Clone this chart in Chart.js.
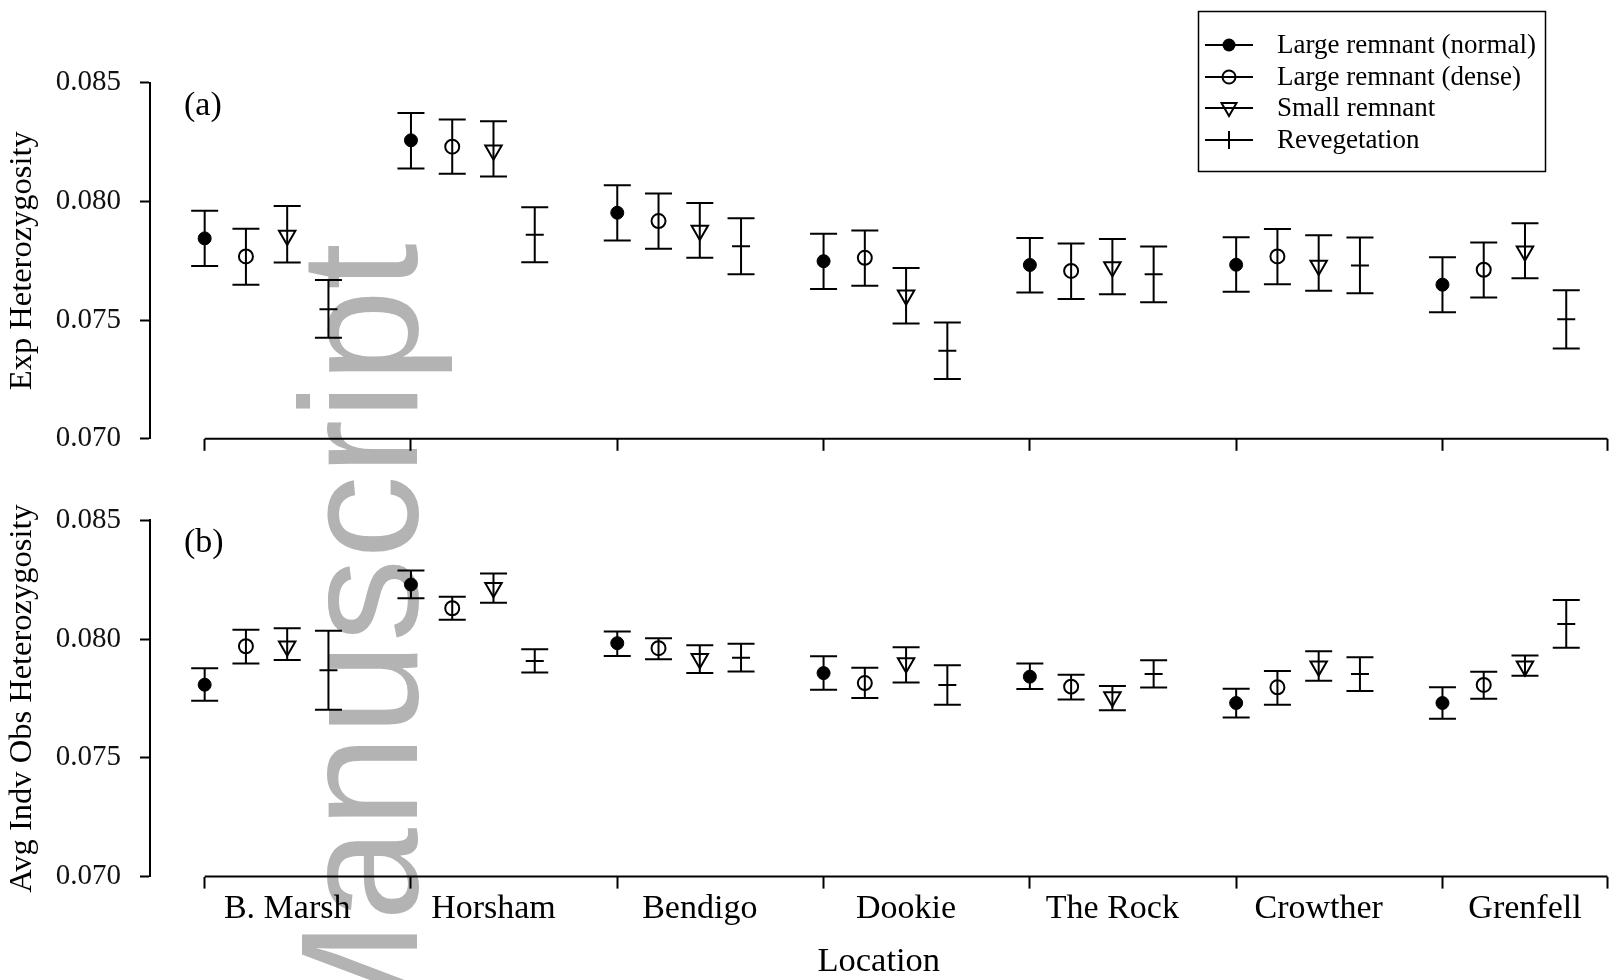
<!DOCTYPE html>
<html>
<head>
<meta charset="utf-8">
<script src="https://cdn.jsdelivr.net/npm/chart.js@4.4.1/dist/chart.umd.min.js"></script>
<style>
  html, body { margin: 0; padding: 0; background: #fff; overflow: hidden; }
  #wrap { position: relative; width: 1619px; height: 980px; overflow: hidden; }
  #wm {
    position: absolute; left: 276px; top: 1060px;
    font-family: 'Liberation Sans', Arial, sans-serif; font-size: 167px; line-height: 1;
    color: #b3b3b3; white-space: nowrap;
    transform: rotate(-90deg); transform-origin: 0 0; z-index: 0;
  }
  canvas { position: absolute; left: 0; z-index: 1; }
  #chartA { top: 0; }
  #chartB { top: 470px; }
</style>
</head>
<body>
<div id="wrap">
  <div id="wm">Manuscript</div>
  <canvas id="chartA" width="1619" height="470"></canvas>
  <canvas id="chartB" width="1619" height="510"></canvas>
</div>
<script>
var locations = ['B. Marsh', 'Horsham', 'Bendigo', 'Dookie', 'The Rock', 'Crowther', 'Grenfell'];
var seriesNames = ['Large remnant (normal)', 'Large remnant (dense)', 'Small remnant', 'Revegetation'];
var seriesOffset = [0, 0.2, 0.4, 0.6];   // where each series sits inside a location group
var labelOffset = 0.4;
var yTicks = [0.070, 0.075, 0.080, 0.085];

// (a) expected heterozygosity: mean, lower and upper end of error bar
var expNormal   = [0.07844, 0.08257, 0.07952, 0.07748, 0.07732, 0.07733, 0.07649];
var expNormalLo = [0.07728, 0.08138, 0.07835, 0.07631, 0.07616, 0.07619, 0.07533];
var expNormalHi = [0.07960, 0.08372, 0.08068, 0.07863, 0.07846, 0.07849, 0.07765];
var expDense    = [0.07768, 0.08230, 0.07917, 0.07762, 0.07707, 0.07768, 0.07712];
var expDenseLo  = [0.07649, 0.08116, 0.07800, 0.07645, 0.07589, 0.07651, 0.07595];
var expDenseHi  = [0.07885, 0.08345, 0.08033, 0.07877, 0.07822, 0.07883, 0.07827];
var expSmall    = [0.07856, 0.08215, 0.07877, 0.07605, 0.07723, 0.07730, 0.07790];
var expSmallLo  = [0.07742, 0.08105, 0.07762, 0.07486, 0.07609, 0.07623, 0.07676];
var expSmallHi  = [0.07980, 0.08337, 0.07993, 0.07719, 0.07841, 0.07857, 0.07908];
var expReveg    = [0.07546, 0.07859, 0.07811, 0.07371, 0.07693, 0.07730, 0.07503];
var expRevegLo  = [0.07426, 0.07743, 0.07693, 0.07252, 0.07575, 0.07613, 0.07380];
var expRevegHi  = [0.07669, 0.07975, 0.07929, 0.07490, 0.07810, 0.07848, 0.07626];

// (b) average individual observed heterozygosity
var obsNormal   = [0.07808, 0.08230, 0.07983, 0.07857, 0.07842, 0.07731, 0.07731];
var obsNormalLo = [0.07741, 0.08172, 0.07929, 0.07787, 0.07790, 0.07670, 0.07665];
var obsNormalHi = [0.07877, 0.08289, 0.08032, 0.07928, 0.07897, 0.07791, 0.07797];
var obsDense    = [0.07970, 0.08130, 0.07962, 0.07815, 0.07800, 0.07797, 0.07807];
var obsDenseLo  = [0.07897, 0.08082, 0.07915, 0.07752, 0.07746, 0.07724, 0.07749];
var obsDenseHi  = [0.08040, 0.08178, 0.08004, 0.07880, 0.07850, 0.07866, 0.07863];
var obsSmall    = [0.07970, 0.08216, 0.07917, 0.07900, 0.07756, 0.07886, 0.07886];
var obsSmallLo  = [0.07912, 0.08153, 0.07857, 0.07817, 0.07700, 0.07825, 0.07846];
var obsSmallHi  = [0.08046, 0.08276, 0.07974, 0.07966, 0.07803, 0.07949, 0.07931];
var obsReveg    = [0.07869, 0.07908, 0.07922, 0.07807, 0.07853, 0.07853, 0.08064];
var obsRevegLo  = [0.07703, 0.07859, 0.07864, 0.07724, 0.07796, 0.07782, 0.07964];
var obsRevegHi  = [0.08035, 0.07957, 0.07981, 0.07890, 0.07911, 0.07924, 0.08165];

Chart.defaults.font.family = "'Liberation Serif', 'Times New Roman', serif";
Chart.defaults.color = '#000';

var xMax = 6.8;
var groupEdges = locations.map(function (l, i) { return i; }).concat([xMax]);
var labelPos = locations.map(function (l, i) { return i + labelOffset; });

function isLabelTick(v) {
    return labelPos.some(function (p) { return Math.abs(p - v) < 1e-6; });
}

function makePoints(mean, lo, hi, s) {
    return mean.map(function (m, i) {
        return { x: i + seriesOffset[s], y: m, lo: lo[i], hi: hi[i] };
    });
}

var markerStyles = [
    { pointStyle: 'circle', pointRadius: 6.5, pointBackgroundColor: '#000', pointBorderWidth: 1 },
    { pointStyle: 'circle', pointRadius: 7, pointBackgroundColor: 'rgba(0,0,0,0)', pointBorderWidth: 2 },
    { pointStyle: 'triangle', pointRotation: 180, pointRadius: 9.5, pointBackgroundColor: 'rgba(0,0,0,0)', pointBorderWidth: 2 },
    { pointStyle: 'line', pointRadius: 9, pointBorderWidth: 2 }
];

// error bars, drawn under the markers
var errorBars = {
    id: 'errorBars',
    beforeDatasetsDraw: function (chart) {
        var ctx = chart.ctx, x = chart.scales.x, y = chart.scales.y;
        ctx.save();
        ctx.strokeStyle = '#000';
        ctx.lineWidth = 2;
        chart.data.datasets.forEach(function (ds) {
            ds.data.forEach(function (p) {
                var px = x.getPixelForValue(p.x);
                var t = y.getPixelForValue(p.hi), b = y.getPixelForValue(p.lo);
                ctx.beginPath();
                ctx.moveTo(px, t); ctx.lineTo(px, b);
                ctx.moveTo(px - 13.5, t); ctx.lineTo(px + 13.5, t);
                ctx.moveTo(px - 13.5, b); ctx.lineTo(px + 13.5, b);
                ctx.stroke();
            });
        });
        ctx.restore();
    }
};

// x axis line starts at the first group, not at the y axis
var xAxisLine = {
    id: 'xAxisLine',
    afterDraw: function (chart) {
        var ctx = chart.ctx, x = chart.scales.x, y = chart.scales.y;
        var py = y.getPixelForValue(y.min);
        ctx.save();
        ctx.strokeStyle = '#000';
        ctx.lineWidth = 2;
        ctx.beginPath();
        ctx.moveTo(x.getPixelForValue(0), py);
        ctx.lineTo(x.getPixelForValue(xMax), py);
        ctx.stroke();
        ctx.restore();
    }
};

var panelLabel = {
    id: 'panelLabel',
    afterDraw: function (chart, args, opts) {
        var ctx = chart.ctx, a = chart.chartArea;
        ctx.save();
        ctx.font = "34px 'Liberation Serif'";
        ctx.fillStyle = '#000';
        ctx.textBaseline = 'middle';
        ctx.fillText(opts.text, a.left + 34, a.top + 23);
        ctx.restore();
    }
};

var boxLegend = {
    id: 'boxLegend',
    afterDraw: function (chart, args, opts) {
        if (!opts.show) return;
        var ctx = chart.ctx;
        var rowY = [45, 77, 108, 140];
        ctx.save();
        ctx.strokeStyle = '#000';
        ctx.fillStyle = '#000';
        ctx.lineWidth = 1.5;
        ctx.strokeRect(1198.5, 11.5, 347, 160);
        ctx.font = "27px 'Liberation Serif'";
        ctx.textBaseline = 'middle';
        seriesNames.forEach(function (name, s) {
            var y = rowY[s], cx = 1229;
            ctx.lineWidth = 2;
            ctx.beginPath(); ctx.moveTo(1205, y); ctx.lineTo(1253, y); ctx.stroke();
            ctx.beginPath();
            if (s === 0) { ctx.arc(cx, y, 6.5, 0, Math.PI * 2); ctx.fill(); }
            else if (s === 1) { ctx.arc(cx, y, 6.5, 0, Math.PI * 2); ctx.stroke(); }
            else if (s === 2) {
                ctx.moveTo(cx, y + 8); ctx.lineTo(cx - 7.5, y - 5); ctx.lineTo(cx + 7.5, y - 5);
                ctx.closePath(); ctx.stroke();
            } else { ctx.moveTo(cx, y - 9); ctx.lineTo(cx, y + 9); ctx.stroke(); }
            ctx.fillText(name, 1277, y + 1);
        });
        ctx.restore();
    }
};

function makeChart(id, series, yTitle, panel, bottom) {
    var datasets = series.map(function (d, s) {
        return Object.assign({
            label: seriesNames[s],
            data: makePoints(d[0], d[1], d[2], s),
            borderColor: '#000',
            pointBorderColor: '#000',
            showLine: false
        }, markerStyles[s]);
    });
    return new Chart(document.getElementById(id), {
        type: 'scatter',
        data: { datasets: datasets },
        plugins: [errorBars, xAxisLine, panelLabel, boxLegend],
        options: {
            responsive: false,
            animation: false,
            events: [],
            devicePixelRatio: 1,
            layout: { padding: { top: bottom ? 50.4 : 82.6, right: 8, bottom: 0, left: 0 } },
            plugins: {
                legend: { display: false },
                tooltip: { enabled: false },
                panelLabel: { text: panel },
                boxLegend: { show: !bottom }
            },
            scales: {
                x: {
                    type: 'linear',
                    min: -0.265,
                    max: xMax,
                    afterBuildTicks: function (sc) {
                        sc.ticks = groupEdges.concat(labelPos).sort(function (a, b) { return a - b; })
                            .map(function (v) { return { value: v }; });
                    },
                    afterFit: function (sc) { sc.height = bottom ? 103.4 : 31.2; },
                    border: { display: false },
                    grid: {
                        drawOnChartArea: false,
                        drawTicks: true,
                        tickLength: 12,
                        tickWidth: 2,
                        tickColor: function (c) { return isLabelTick(c.tick.value) ? 'rgba(0,0,0,0)' : '#000'; }
                    },
                    ticks: {
                        display: bottom,
                        autoSkip: false,
                        maxRotation: 0,
                        padding: 0,
                        color: '#000',
                        font: { size: 34 },
                        callback: function (v) {
                            var i = labelPos.findIndex(function (p) { return Math.abs(p - v) < 1e-6; });
                            return i >= 0 ? locations[i] : '';
                        }
                    },
                    title: {
                        display: bottom,
                        text: 'Location',
                        color: '#000',
                        font: { size: 34.5 },
                        padding: { top: 0, bottom: -3 }
                    }
                },
                y: {
                    min: yTicks[0],
                    max: yTicks[yTicks.length - 1],
                    afterBuildTicks: function (sc) {
                        sc.ticks = yTicks.map(function (v) { return { value: v }; });
                    },
                    afterFit: function (sc) {
                        sc.width = 150;
                        // keep the tick labels from pushing the plot area around
                        sc.paddingTop = 0;
                        sc.paddingBottom = 0;
                    },
                    border: { display: true, color: '#000', width: 2 },
                    grid: { drawOnChartArea: false, drawTicks: true, tickLength: 10, tickWidth: 2, tickColor: '#000' },
                    ticks: {
                        padding: 19,
                        color: '#111',
                        font: { size: 29 },
                        callback: function (v) { return v.toFixed(3); }
                    },
                    title: {
                        display: true,
                        text: yTitle,
                        color: '#000',
                        font: { size: 32.5 },
                        padding: { top: 3, bottom: 0 }
                    }
                }
            }
        }
    });
}

makeChart('chartA', [
    [expNormal, expNormalLo, expNormalHi],
    [expDense, expDenseLo, expDenseHi],
    [expSmall, expSmallLo, expSmallHi],
    [expReveg, expRevegLo, expRevegHi]
], 'Exp Heterozygosity', '(a)', false);

makeChart('chartB', [
    [obsNormal, obsNormalLo, obsNormalHi],
    [obsDense, obsDenseLo, obsDenseHi],
    [obsSmall, obsSmallLo, obsSmallHi],
    [obsReveg, obsRevegLo, obsRevegHi]
], 'Avg Indv Obs Heterozygosity', '(b)', true);
</script>
</body>
</html>
